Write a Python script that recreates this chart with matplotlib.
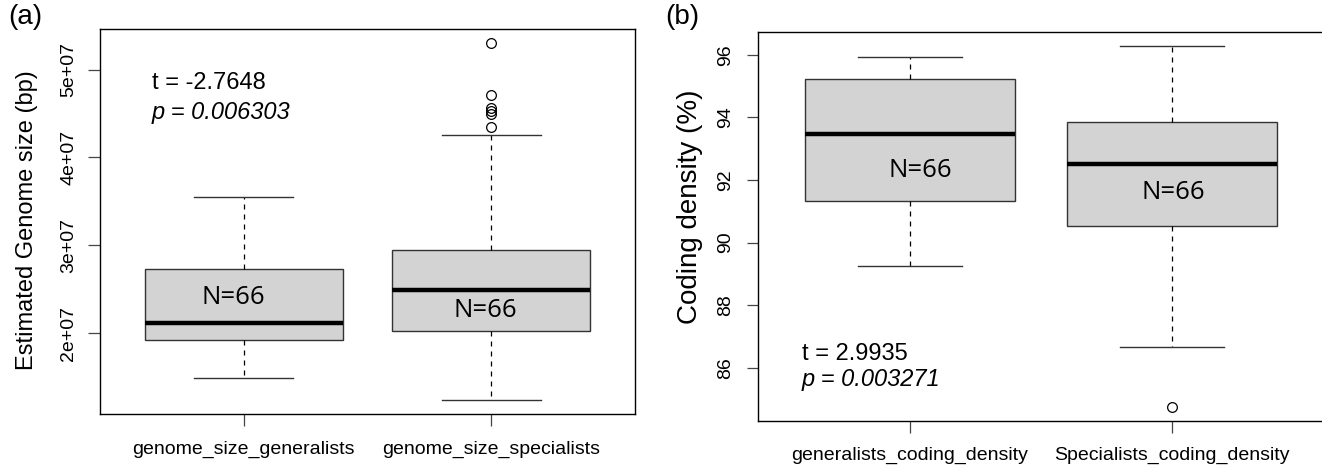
import matplotlib
matplotlib.use("Agg")
import matplotlib.pyplot as plt

plt.rcParams["font.family"] = ["Liberation Sans", "DejaVu Sans"]

# ── Data ──────────────────────────────────────────────────────────────────────

size_labels = ["genome_size_generalists", "genome_size_specialists"]
size_whislo = [1.49e7, 1.24e7]
size_q1     = [1.92e7, 2.02e7]
size_med    = [2.11e7, 2.49e7]
size_q3     = [2.73e7, 2.94e7]
size_whishi = [3.55e7, 4.26e7]
size_fliers = [[], [5.30e7, 4.71e7, 4.56e7, 4.53e7, 4.49e7, 4.35e7]]
size_ticks  = [2e7, 3e7, 4e7, 5e7]
size_tick_labels = ["2e+07", "3e+07", "4e+07", "5e+07"]

cod_labels = ["generalists_coding_density", "Specialists_coding_density"]
cod_whislo = [89.25, 86.67]
cod_q1     = [91.34, 90.52]
cod_med    = [93.46, 92.50]
cod_q3     = [95.24, 93.87]
cod_whishi = [95.94, 96.27]
cod_fliers = [[], [84.76]]
cod_ticks  = [86, 88, 90, 92, 94, 96]

n_labels = ["N=66", "N=66"]

W, H = 1322, 470
fig = plt.figure(figsize=(W / 100, H / 100), dpi=100)


def px_axes(left, right, top, bottom):
    return fig.add_axes([left / W, 1 - bottom / H, (right - left) / W, (bottom - top) / H])


def draw_box(ax, whislo, q1, med, q3, whishi, fliers, labels):
    stats = []
    for i in range(len(labels)):
        stats.append(dict(whislo=whislo[i], q1=q1[i], med=med[i], q3=q3[i],
                          whishi=whishi[i], fliers=fliers[i], label=labels[i]))
    ax.bxp(stats, positions=[1, 2], widths=0.8, capwidths=0.4, patch_artist=True,
           boxprops=dict(facecolor="#d3d3d3", edgecolor="#333333", lw=1.0),
           medianprops=dict(color="black", lw=3.2, solid_capstyle="butt"),
           whiskerprops=dict(color="black", lw=0.9, ls=(0, (4, 4))),
           capprops=dict(color="#333333", lw=1.0),
           flierprops=dict(marker="o", markersize=7, markerfacecolor="none",
                           markeredgecolor="black", markeredgewidth=0.9))
    lo = min(min(whislo), min(min(f) for f in fliers if f))
    hi = max(max(whishi), max(max(f) for f in fliers if f))
    pad = 0.04 * (hi - lo)
    ax.set_ylim(lo - pad, hi + pad)
    ax.set_xlim(0.42, 2.58)
    for s in ax.spines.values():
        s.set_color("black")
        s.set_linewidth(1.0)


# ── Panel (a) ─────────────────────────────────────────────────────────────────

ax_a = px_axes(100, 635, 29, 414)
draw_box(ax_a, size_whislo, size_q1, size_med, size_q3, size_whishi, size_fliers, size_labels)
ax_a.set_yticks(size_ticks)
ax_a.set_yticklabels(size_tick_labels, rotation=90, va="center")
ax_a.tick_params(axis="y", length=8.5, width=0.9, color="#444444", pad=8, labelsize=14)
ax_a.tick_params(axis="x", length=8.5, width=0.9, color="#444444", pad=11, labelsize=14)
ax_a.text(-0.136, 0.504, "Estimated Genome size (bp)", transform=ax_a.transAxes,
          rotation=90, ha="center", va="center", fontsize=17)
ax_a.text(0.63, 4.85e7, "t = -2.7648", ha="left", va="center", fontsize=17)
ax_a.text(0.63, 4.51e7, "p = 0.006303", ha="left", va="center", fontsize=17, fontstyle="italic")
ax_a.text(0.957, 2.405e7, n_labels[0], ha="center", va="center", fontsize=18.5, family="Open Sans")
ax_a.text(1.974, 2.26e7, n_labels[1], ha="center", va="center", fontsize=18.5, family="Open Sans")
fig.text(8 / W, 1 - 17 / H, "(a)", ha="left", va="center", fontsize=20)

# ── Panel (b) ─────────────────────────────────────────────────────────────────

ax_b = px_axes(758, 1324, 32, 421)
draw_box(ax_b, cod_whislo, cod_q1, cod_med, cod_q3, cod_whishi, cod_fliers, cod_labels)
ax_b.set_yticks(cod_ticks)
ax_b.set_yticklabels([str(t) for t in cod_ticks], rotation=90, va="center")
ax_b.tick_params(axis="y", length=8, width=0.9, color="#444444", pad=9, labelsize=14)
ax_b.tick_params(axis="x", length=8.5, width=0.9, color="#444444", pad=10, labelsize=14)
ax_b.text(-0.120, 0.55, "Coding density (%)", transform=ax_b.transAxes,
          rotation=90, ha="center", va="center", fontsize=20)
ax_b.text(0.588, 86.44, "t = 2.9935", ha="left", va="center", fontsize=17)
ax_b.text(0.588, 85.61, "p = 0.003271", ha="left", va="center", fontsize=17, fontstyle="italic")
ax_b.text(1.038, 92.32, n_labels[0], ha="center", va="center", fontsize=18.5, family="Open Sans")
ax_b.text(2.004, 91.59, n_labels[1], ha="center", va="center", fontsize=18.5, family="Open Sans")
fig.text(665 / W, 1 - 17 / H, "(b)", ha="left", va="center", fontsize=20)

fig.savefig("out.png", dpi=100)
